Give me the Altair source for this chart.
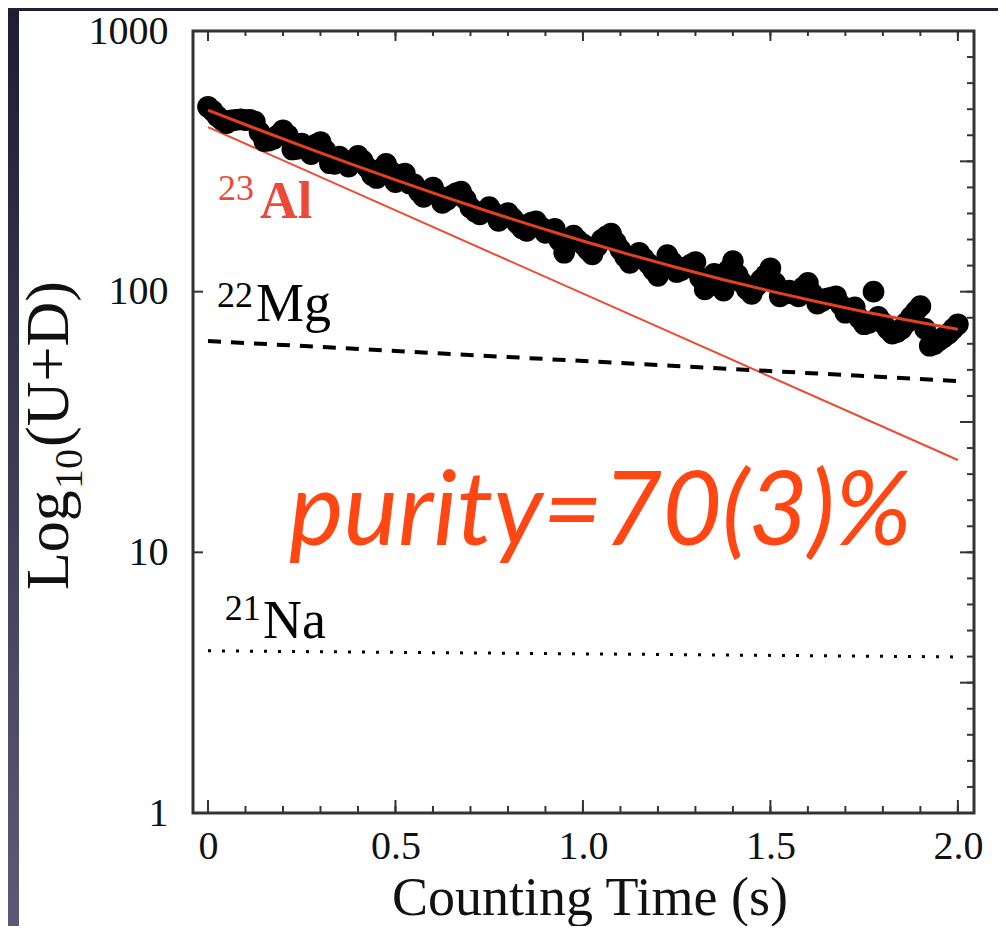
import altair as alt
import pandas as pd

# ---------------- data ----------------
time_s = [0.000, 0.025, 0.050, 0.075, 0.100, 0.125, 0.150, 0.175, 0.200, 0.225,
          0.250, 0.275, 0.300, 0.325, 0.350, 0.375, 0.400, 0.425, 0.450, 0.475,
          0.500, 0.525, 0.550, 0.575, 0.600, 0.625, 0.650, 0.675, 0.700, 0.725,
          0.750, 0.775, 0.800, 0.825, 0.850, 0.875, 0.900, 0.925, 0.950, 0.975,
          1.000, 1.025, 1.050, 1.075, 1.100, 1.125, 1.150, 1.175, 1.200, 1.225,
          1.250, 1.275, 1.300, 1.325, 1.350, 1.375, 1.400, 1.425, 1.450, 1.475,
          1.500, 1.525, 1.550, 1.575, 1.600, 1.625, 1.650, 1.675, 1.700, 1.725,
          1.750, 1.775, 1.800, 1.825, 1.850, 1.875, 1.900, 1.925, 1.950, 1.975,
          2.000]
counts = [512, 471, 443, 456, 455, 449, 378, 386, 416, 351,
          370, 337, 375, 311, 330, 302, 332, 299, 273, 309,
          263, 284, 258, 231, 251, 219, 233, 242, 210, 198,
          211, 187, 200, 183, 171, 186, 168, 174, 141, 164,
          152, 139, 158, 167, 145, 129, 141, 128, 115, 138,
          119, 124, 130, 102, 117, 101, 131, 108, 98, 111,
          123, 96, 101, 96, 108, 90, 94, 96, 83, 87,
          75, 100, 76, 69, 72, 80, 88, 62, 65, 69,
          75]

time_mid = [0.0125, 0.0375, 0.0625, 0.0875, 0.1125, 0.1375, 0.1625, 0.1875, 0.2125, 0.2375,
            0.2625, 0.2875, 0.3125, 0.3375, 0.3625, 0.3875, 0.4125, 0.4375, 0.4625, 0.4875,
            0.5125, 0.5375, 0.5625, 0.5875, 0.6125, 0.6375, 0.6625, 0.6875, 0.7125, 0.7375,
            0.7625, 0.7875, 0.8125, 0.8375, 0.8625, 0.8875, 0.9125, 0.9375, 0.9625, 0.9875,
            1.0125, 1.0375, 1.0625, 1.0875, 1.1125, 1.1375, 1.1625, 1.1875, 1.2125, 1.2375,
            1.2625, 1.2875, 1.3125, 1.3375, 1.3625, 1.3875, 1.4125, 1.4375, 1.4625, 1.4875,
            1.5125, 1.5375, 1.5625, 1.5875, 1.6125, 1.6375, 1.6625, 1.6875, 1.7125, 1.7375,
            1.7625, 1.7875, 1.8125, 1.8375, 1.8625, 1.8875, 1.9125, 1.9375, 1.9625, 1.9875]
counts_mid = [494, 455, 454, 458, 456, 409, 380, 399, 399, 353,
              353, 367, 349, 309, 319, 319, 318, 280, 295, 289,
              275, 260, 242, 238, 234, 225, 239, 226, 203, 203,
              200, 193, 191, 175, 184, 177, 171, 157, 154, 157,
              145, 149, 163, 155, 136, 134, 134, 121, 125, 130,
              121, 127, 113, 108, 108, 121, 116, 102, 105, 116,
              108, 98, 98, 104, 98, 92, 95, 89, 84, 79,
              76, 80, 72, 70, 76, 84, 72, 63, 67, 72]

fit_t = [0.0, 0.125, 0.25, 0.375, 0.5, 0.625, 0.75, 0.875, 1.0,
         1.125, 1.25, 1.375, 1.5, 1.625, 1.75, 1.875, 2.0]
fit_v = [496.9, 423.6, 362.4, 311.2, 268.3, 232.6, 202.6, 177.6, 156.4,
         138.7, 123.8, 111.1, 100.5, 91.5, 83.8, 77.3, 71.7]

comp_t = [0.0, 2.0]
al23_v = [428.0, 22.6]
mg22_v = [64.7, 45.4]
na21_v = [4.19, 3.97]

x_tick_labels = [0, 0.5, 1.0, 1.5, 2.0]
x_minor_ticks = [0.0, 0.1, 0.2, 0.3, 0.4, 0.5, 0.6, 0.7, 0.8, 0.9, 1.0,
                 1.1, 1.2, 1.3, 1.4, 1.5, 1.6, 1.7, 1.8, 1.9, 2.0]
y_tick_labels = [1, 10, 100, 1000]
y_right_minor = [10 ** (k / 10) for k in range(31)]
y_right_major = [10 ** (k / 2) for k in range(7)]

# ---------------- layout / style ----------------
W, H = 781, 782
RED = "#ec4a36"
FIT_RED = "#e5401e"
FRAME = "#333333"
SERIF = "Liberation Serif"

xs = alt.Scale(domain=[-0.04, 2.043], nice=False, zero=False)
ys = alt.Scale(type="log", domain=[1, 1000], nice=False)

x_axis = alt.Axis(values=x_tick_labels,
                  labelExpr="datum.value == 0 ? '0' : format(datum.value, '.1f')",
                  ticks=False, tickSize=0, domain=False, grid=False,
                  labelFont=SERIF, labelFontSize=40, labelColor="#111",
                  labelPadding=13, labelOverlap=False, labelFlush=False,
                  title=None, zindex=1)
y_axis = alt.Axis(values=y_tick_labels, format="d",
                  ticks=False, tickSize=0, domain=False, grid=False,
                  labelFont=SERIF, labelFontSize=40, labelColor="#111",
                  labelPadding=25, labelOverlap=False, labelFlush=False,
                  title=None, zindex=1)


def X():
    return alt.X("t:Q", scale=xs, axis=x_axis)


def Y():
    return alt.Y("v:Q", scale=ys, axis=y_axis)


one = pd.DataFrame({"k": [0]})

# dark slide strips (left & top)
grad = alt.Gradient(gradient="linear",
                    stops=[alt.GradientStop(color="#1d1d37", offset=0),
                           alt.GradientStop(color="#5c5b77", offset=1)],
                    x1=0, x2=0, y1=0, y2=1)
left_strip = alt.Chart(one).mark_rect(fill=grad).encode(
    x=alt.value(-185), x2=alt.value(-174), y=alt.value(-23), y2=alt.value(H + 113))
top_strip = alt.Chart(one).mark_rect(fill="#1f1f3a").encode(
    x=alt.value(-185), x2=alt.value(W + 24), y=alt.value(-23), y2=alt.value(-20))

pts_df = pd.DataFrame({"t": time_s + time_mid, "v": counts + counts_mid})
fit_df = pd.DataFrame({"t": fit_t, "v": fit_v})
al_df = pd.DataFrame({"t": comp_t, "v": al23_v})
mg_df = pd.DataFrame({"t": comp_t, "v": mg22_v})
na_df = pd.DataFrame({"t": comp_t, "v": na21_v})

points = alt.Chart(pts_df).mark_circle(size=470, color="black", opacity=1).encode(x=X(), y=Y())

al_line = alt.Chart(al_df).mark_line(color=RED, strokeWidth=2).encode(x=X(), y=Y())
mg_line = alt.Chart(mg_df).mark_line(color="black", strokeWidth=4,
                                     strokeDash=[13, 10]).encode(x=X(), y=Y())
na_line = alt.Chart(na_df).mark_line(color="black", strokeWidth=3,
                                     strokeDash=[3, 11]).encode(x=X(), y=Y())
fit_line = alt.Chart(fit_df).mark_line(color=FIT_RED, strokeWidth=3,
                                       interpolate="monotone").encode(x=X(), y=Y())


# ---------------- ticks (pointing inward) ----------------
def vticks(vals, y0, y1):
    return alt.Chart(pd.DataFrame({"t": vals})).mark_rule(
        color=FRAME, strokeWidth=2).encode(x=X(), y=alt.value(y0), y2=alt.value(y1))


def hticks(vals, x0, x1):
    return alt.Chart(pd.DataFrame({"v": vals})).mark_rule(
        color=FRAME, strokeWidth=2).encode(y=Y(), x=alt.value(x0), x2=alt.value(x1))


ticks = [
    vticks(x_minor_ticks, H, H - 7), vticks(x_tick_labels, H, H - 13),
    vticks(x_minor_ticks, 0, 5), vticks(x_tick_labels, 0, 10),
    hticks(y_tick_labels, 0, 10),
    hticks(y_right_minor, W, W - 7), hticks(y_right_major, W, W - 14),
]

# ---------------- annotations ----------------
sup_df = pd.DataFrame({"txt": ["23", "22", "21"], "t": [0.027, 0.024, 0.045],
                       "v": [224.7, 87.4, 5.50], "c": [RED, "black", "black"]})
sup = alt.Chart(sup_df).mark_text(font=SERIF, fontSize=36, align="left",
                                  baseline="alphabetic").encode(
    x=X(), y=Y(), text="txt:N", color=alt.Color("c:N", scale=None))

al_lab = alt.Chart(pd.DataFrame({"txt": ["Al"], "t": [0.139], "v": [191.8]})).mark_text(
    font=SERIF, fontSize=52, fontWeight="bold", color=RED, align="left",
    baseline="alphabetic").encode(x=X(), y=Y(), text="txt:N")
main_df = pd.DataFrame({"txt": ["Mg", "Na"], "t": [0.128, 0.147], "v": [77.2, 4.70]})
main_lab = alt.Chart(main_df).mark_text(
    font=SERIF, fontSize=54, color="black", align="left",
    baseline="alphabetic").encode(x=X(), y=Y(), text="txt:N")

purity = alt.Chart(pd.DataFrame({"txt": ["purity=70(3)%"], "t": [0.216], "v": [10.7]})).mark_text(
    font="Lato", fontSize=103,
    fontStyle="italic", color="#ff4613", align="left", baseline="alphabetic").encode(
    x=X(), y=Y(), text="txt:N")

# ---------------- axis titles ----------------
xtitle = alt.Chart(one).mark_text(text="Counting Time (s)", font=SERIF, fontSize=54,
                                  color="#111", align="center", baseline="alphabetic").encode(
    x=alt.value(397), y=alt.value(884))

ytitle_main1 = alt.Chart(one).mark_text(text="Log", font=SERIF, fontSize=62, color="#111",
                                        angle=270, align="left", baseline="alphabetic").encode(
    x=alt.value(-125), y=alt.value(559))
ytitle_sub = alt.Chart(one).mark_text(text="10", font=SERIF, fontSize=40, color="#111",
                                      angle=270, align="left", baseline="alphabetic").encode(
    x=alt.value(-111), y=alt.value(458))
ytitle_main2 = alt.Chart(one).mark_text(text="(U+D)", font=SERIF, fontSize=62, color="#111",
                                        angle=270, align="left", baseline="alphabetic").encode(
    x=alt.value(-125), y=alt.value(416))

chart = alt.layer(
    left_strip, top_strip, al_line, mg_line, na_line, points, fit_line,
    *ticks, sup, al_lab, main_lab, purity, xtitle, ytitle_main1, ytitle_sub, ytitle_main2
).properties(
    width=W, height=H,
    padding={"left": 185, "top": 23, "right": 24, "bottom": 113},
    autosize=alt.AutoSizeParams(type="none"),
    background="white",
).configure_view(stroke=FRAME, strokeWidth=3)

chart.save("out.html", embed_options={"renderer": "svg", "actions": False})
